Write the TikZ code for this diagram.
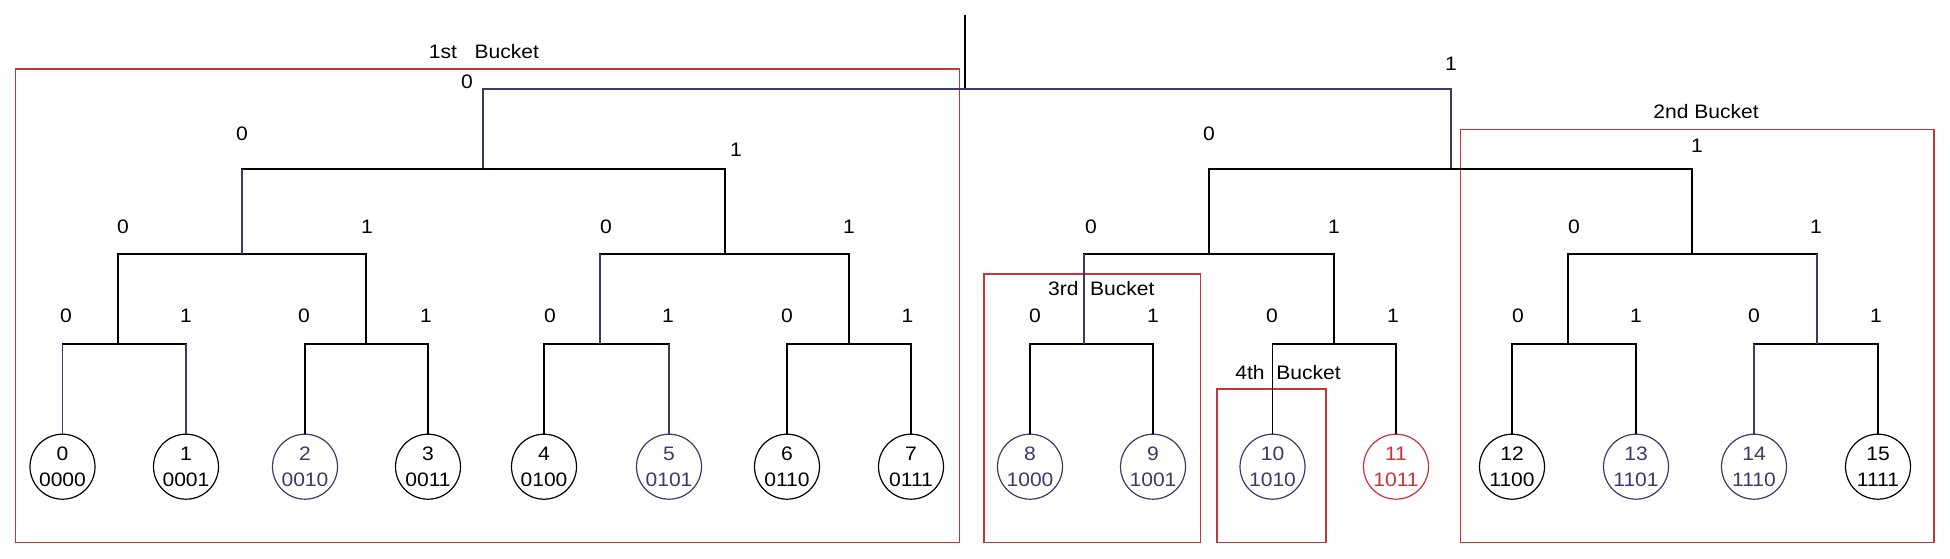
\documentclass[tikz,border=0pt]{standalone}
\usepackage{fontspec}
\setmainfont[FakeStretch=1.08]{Liberation Sans}
\definecolor{navy}{RGB}{58,58,108}
\definecolor{bred}{RGB}{200,52,58}
\begin{document}
\begin{tikzpicture}[x=1pt,y=-1pt,
  every node/.style={font=\fontsize{19.5}{26}\selectfont, inner sep=0pt},
  tree/.style={draw=black, line width=1.1pt},
  ntree/.style={draw=navy, line width=1.1pt},
  bucket/.style={draw=bred, line width=1.4pt},
  leaf/.style={draw, circle, minimum size=65pt, line width=1.2pt, align=center},
  blab/.style={anchor=center}]
\useasboundingbox (0,0) rectangle (1950,559);
% red bucket boxes
\draw[bucket] (15.6,69) rectangle (959.3,542.7);
\draw[bucket] (1460.5,129.5) rectangle (1934,542.7);
\draw[bucket] (984,274) rectangle (1200.7,542.7);
\draw[bucket] (1217,389) rectangle (1326,542.7);
% bucket labels
\node[blab] (b1) at (484,52) {1st~~~Bucket};
\node[blab] (b2) at (1706,112) {2nd Bucket};
\node[blab] (b3) at (1101.3,289) {3rd~~Bucket};
\node[blab] (b4) at (1288,373) {4th~~Bucket};
% tree junctions
\coordinate (top) at (965,15);
\coordinate (n) at (965,89);
\coordinate (n0) at (483,169);
\coordinate (n1) at (1451,169);
\coordinate (n00) at (242,254);
\coordinate (n01) at (725,254);
\coordinate (n10) at (1209,254);
\coordinate (n11) at (1692,254);
\coordinate (n000) at (118,344);
\coordinate (n001) at (366,344);
\coordinate (n010) at (600,344);
\coordinate (n011) at (849,344);
\coordinate (n100) at (1084,344);
\coordinate (n101) at (1334,344);
\coordinate (n110) at (1568,344);
\coordinate (n111) at (1817,344);
% leaves
\node[leaf] (L0) at (62.5,466.7) {0\\0000};
\node[leaf] (L1) at (186,466.7) {1\\0001};
\node[leaf, draw=navy, text=navy] (L2) at (305,466.7) {2\\0010};
\node[leaf] (L3) at (428,466.7) {3\\0011};
\node[leaf] (L4) at (544,466.7) {4\\0100};
\node[leaf, draw=navy, text=navy] (L5) at (669,466.7) {5\\0101};
\node[leaf] (L6) at (787,466.7) {6\\0110};
\node[leaf] (L7) at (911,466.7) {7\\0111};
\node[leaf, draw=navy, text=navy] (L8) at (1030,466.7) {8\\1000};
\node[leaf, draw=navy, text=navy] (L9) at (1153,466.7) {9\\1001};
\node[leaf, draw=navy, text=navy] (L10) at (1272.5,466.7) {10\\1010};
\node[leaf, draw=bred, text=bred] (L11) at (1396,466.7) {11\\1011};
\node[leaf] (L12) at (1512,466.7) {12\\1100};
\node[leaf, draw=navy, text=navy] (L13) at (1636,466.7) {13\\1101};
\node[leaf, draw=navy, text=navy] (L14) at (1754,466.7) {14\\1110};
\node[leaf] (L15) at (1878,466.7) {15\\1111};
% connectors
\draw[tree] (top) -- (n);
\draw[ntree] (n) -| (n0);
\draw[ntree] (n) -| (n1);
\draw[tree] (n0) -| (n00);
\draw[tree] (n0) -| (n01);
\draw[tree] (n1) -| (n10);
\draw[tree] (n1) -| (n11);
\draw[tree] (n00) -| (n000);
\draw[tree] (n00) -| (n001);
\draw[tree] (n01) -| (n010);
\draw[tree] (n01) -| (n011);
\draw[tree] (n10) -| (n100);
\draw[tree] (n10) -| (n101);
\draw[tree] (n11) -| (n110);
\draw[tree] (n11) -| (n111);
\draw[tree] (n000) -| (L0.north);
\draw[tree] (n000) -| (L1.north);
\draw[tree] (n001) -| (L2.north);
\draw[tree] (n001) -| (L3.north);
\draw[tree] (n010) -| (L4.north);
\draw[tree] (n010) -| (L5.north);
\draw[tree] (n011) -| (L6.north);
\draw[tree] (n011) -| (L7.north);
\draw[tree] (n100) -| (L8.north);
\draw[tree] (n100) -| (L9.north);
\draw[tree] (n101) -| (L10.north);
\draw[tree] (n101) -| (L11.north);
\draw[tree] (n110) -| (L12.north);
\draw[tree] (n110) -| (L13.north);
\draw[tree] (n111) -| (L14.north);
\draw[tree] (n111) -| (L15.north);
% navy vertical strokes
\draw[ntree] (n00 |- n0) -- (n00);
\draw[ntree] (n010 |- n01) -- (n010);
\draw[ntree] (n100 |- n10) -- (n100);
\draw[ntree] (n111 |- n11) -- (n111);
\draw[ntree] (L0.north |- n000) -- (L0.north);
\draw[ntree] (L1.north |- n000) -- (L1.north);
\draw[ntree] (L5.north |- n010) -- (L5.north);
\draw[ntree] (L14.north |- n111) -- (L14.north);
% edge labels
\node (e0) at (467,82) {0};
\node (e1) at (1451,64) {1};
\node (e00) at (242,134) {0};
\node (e01) at (736,150) {1};
\node (e10) at (1209,134) {0};
\node (e11) at (1697,146) {1};
\foreach \x/\t [count=\i] in {123/0,367/1,606/0,849/1,1091/0,1334/1,1574/0,1816/1}
  \node (f\i) at (\x,227) {\t};
\foreach \x/\t [count=\i] in {66/0,186/1,304/0,426/1,550/0,668/1,787/0,907.5/1,1035/0,1153/1,1272/0,1393/1,1518/0,1636/1,1754/0,1876/1}
  \node (g\i) at (\x,316) {\t};
\end{tikzpicture}
\end{document}
